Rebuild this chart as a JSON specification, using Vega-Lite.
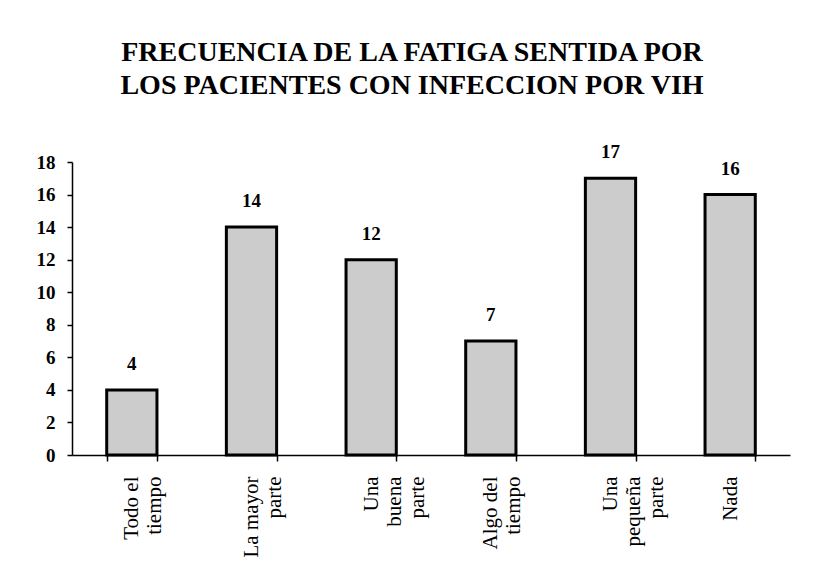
{
  "$schema": "https://vega.github.io/schema/vega-lite/v6.json",
  "autosize": "none",
  "width": 718,
  "height": 293,
  "padding": {"left": 72, "top": 162, "right": 23, "bottom": 129},
  "background": "white",
  "title": {
    "text": ["FRECUENCIA DE LA FATIGA  SENTIDA POR", "LOS PACIENTES CON INFECCION POR VIH"],
    "font": "Liberation Serif",
    "fontSize": 28,
    "fontWeight": "bold",
    "color": "black",
    "lineHeight": 33,
    "anchor": "middle",
    "dx": -19,
    "offset": 43
  },
  "data": {
    "values": [
      {"cat": "Todo el tiempo", "n": 4},
      {"cat": "La mayor parte", "n": 14},
      {"cat": "Una buena parte", "n": 12},
      {"cat": "Algo del tiempo", "n": 7},
      {"cat": "Una pequeña parte", "n": 17},
      {"cat": "Nada", "n": 16}
    ]
  },
  "encoding": {
    "x": {
      "field": "cat",
      "type": "nominal",
      "sort": null,
      "scale": {"paddingInner": 0.58, "paddingOuter": 0.29},
      "axis": {
        "title": null,
        "labelAngle": -90,
        "labelAlign": "right",
        "labelBaseline": "middle",
        "labelFont": "Liberation Serif",
        "labelFontSize": 21,
        "labelColor": "black",
        "labelLineHeight": 23,
        "labelPadding": 15,
        "labelExpr": "datum.value == 'Todo el tiempo' ? ['Todo el','tiempo'] : datum.value == 'La mayor parte' ? ['La mayor','parte'] : datum.value == 'Una buena parte' ? ['Una','buena','parte'] : datum.value == 'Algo del tiempo' ? ['Algo del','tiempo'] : datum.value == 'Una pequeña parte' ? ['Una','pequeña','parte'] : datum.value",
        "tickBand": "extent",
        "tickSize": 6,
        "tickColor": "black",
        "tickWidth": 1.5,
        "domainColor": "black",
        "domainWidth": 1.5
      }
    },
    "y": {
      "field": "n",
      "type": "quantitative",
      "scale": {"domain": [0, 18], "nice": false},
      "axis": {
        "title": null,
        "values": [0, 2, 4, 6, 8, 10, 12, 14, 16, 18],
        "grid": false,
        "labelFont": "Liberation Serif",
        "labelFontSize": 19,
        "labelFontWeight": "bold",
        "labelColor": "black",
        "labelPadding": 12,
        "tickSize": 5,
        "tickColor": "black",
        "tickWidth": 1.5,
        "domainColor": "black",
        "domainWidth": 1.5
      }
    }
  },
  "layer": [
    {
      "mark": {"type": "bar", "fill": "#cccccc", "stroke": "black", "strokeWidth": 3}
    },
    {
      "mark": {"type": "text", "dy": -16, "baseline": "bottom", "font": "Liberation Serif", "fontSize": 19, "fontWeight": "bold", "color": "black"},
      "encoding": {"text": {"field": "n", "type": "quantitative"}}
    }
  ],
  "config": {"view": {"stroke": null}}
}
